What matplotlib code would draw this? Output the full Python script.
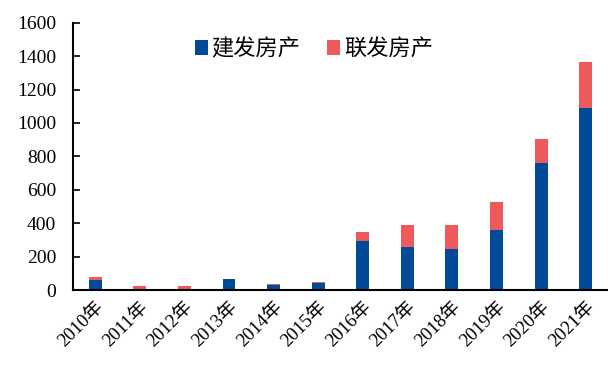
import numpy as np
import matplotlib
matplotlib.use('Agg')
from matplotlib import pyplot as plt

plt.rcParams['font.family'] = ['Liberation Serif', 'Noto Sans CJK SC', 'DejaVu Sans']

years = ['2010年', '2011年', '2012年', '2013年', '2014年', '2015年',
         '2016年', '2017年', '2018年', '2019年', '2020年', '2021年']
jianfa = [58, 0, 0, 65, 30, 43, 292, 258, 248, 362, 760, 1090]
lianfa = [22, 25, 25, 4, 4, 5, 53, 132, 142, 168, 145, 275]

blue = '#004A98'
red = '#EE5A5C'

fig = plt.figure(figsize=(6.08, 3.65), dpi=100)
ax = fig.add_axes([0.12, 0.205, 0.88, 0.733])

x = np.arange(len(years))
ax.bar(x, jianfa, width=0.29, color=blue, label='建发房产')
ax.bar(x, lianfa, width=0.29, bottom=jianfa, color=red, label='联发房产')

ax.set_xlim(-0.5, 11.5)
ax.set_ylim(0, 1600)
ax.set_yticks(range(0, 1601, 200))
ax.set_xticks(x)
ax.set_xticklabels(years, rotation=45, ha='right', rotation_mode='anchor')

ax.spines['top'].set_visible(False)
ax.spines['right'].set_visible(False)
ax.spines['left'].set_linewidth(1.5)
ax.spines['bottom'].set_linewidth(1.5)
ax.tick_params(axis='y', direction='in', length=5, width=1.2, labelsize=14, pad=12)
ax.tick_params(axis='x', length=0, labelsize=13.5, pad=6)

ax.legend(loc='upper center', bbox_to_anchor=(0.45, 1.02), ncol=2, frameon=False,
          handlelength=0.6, handleheight=0.6, handletextpad=0.15, columnspacing=1.2,
          prop={'family': ['Noto Sans CJK SC'], 'size': 16})

fig.savefig('out.png', dpi=100)
